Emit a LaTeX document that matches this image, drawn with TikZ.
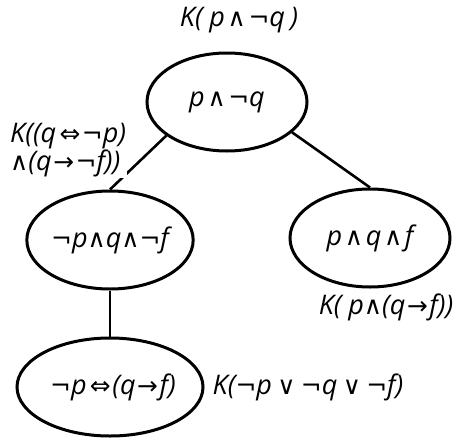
\documentclass[tikz,border=0pt]{standalone}
\usepackage{fontspec}
\setmainfont{Open Sans}
\newfontfamily\symf{DejaVu Sans}[Scale=0.92]
\usetikzlibrary{shapes.geometric}
\newcommand\lAnd{\hspace{0.1em}{\symf\upshape ∧}\hspace{0.1em}}
\newcommand\lAndL{{\symf\upshape ∧}}
\newcommand\lOr{\hspace{0.2em}{\symf\upshape ∨}\hspace{0.2em}}
\newcommand\lNot{{\symf\upshape ¬}}
\newcommand\lImp{\hspace{0.06em}{\symf\upshape →}\hspace{0.06em}}
\newcommand\lIff{\hspace{0.12em}{\symf\upshape ⇔}\hspace{0.06em}}
\begin{document}
\begin{tikzpicture}[x=1pt,y=-1pt,
  world/.style={draw, ellipse, line width=3pt, minimum width=160pt, minimum height=98pt, inner sep=0pt, font=\fontsize{27}{29}\selectfont\itshape},
  lbl/.style={font=\fontsize{27}{27}\selectfont\itshape, inner sep=1pt},
  edge/.style={line width=2.6pt}]
\useasboundingbox (0,0) rectangle (460,439);
\node[world] (top) at (227,102) {p\lAnd\lNot q};
\node[world] (left) at (110,240) {\lNot p\lAndL q\lAndL\lNot f\hspace{12pt}};
\node[world] (right) at (370,238) {p\lAnd q\lAnd f};
\node[world] (bot) at (110,387) {\hspace{6pt}\lNot p\lIff(q\lImp f)};
\draw[edge] (top.209) -- (left.north);
\draw[edge] (top.335) -- (right.north);
\draw[edge] (left.south) -- (bot.north);
\node[lbl] (ktop) at (239,20) {K(\hspace{0.25em}p\lAnd\lNot q\hspace{0.2em})};
\node[lbl, fill=white, align=left, anchor=west] (kleft) at (9,150) {K((q\lIff\lNot p)\\\lAndL(q\lImp\lNot f))};
\node[lbl] (kright) at (386,307) {K(\hspace{0.25em}p\lAndL(q\lImp f))};
\node[lbl] (kbot) at (308,387) {K(\lNot p\lOr\lNot q\lOr\lNot f)};
\end{tikzpicture}
\end{document}
